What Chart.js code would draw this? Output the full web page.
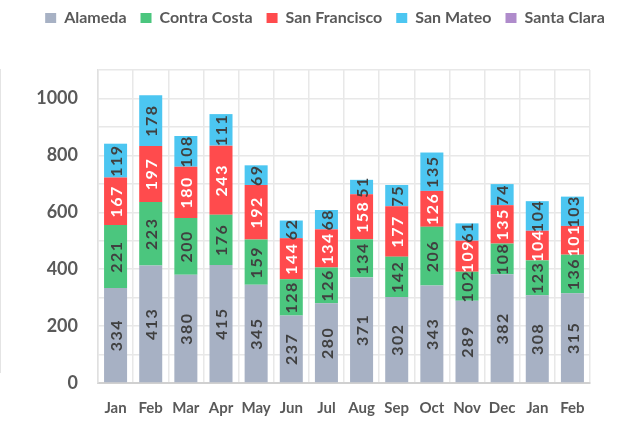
<!DOCTYPE html>
<html>
<head>
<meta charset="utf-8">
<script src="https://cdn.jsdelivr.net/npm/chart.js@4/dist/chart.umd.min.js"></script>
<style>
  html, body { margin: 0; padding: 0; background: #ffffff; }
  #wrap { position: relative; width: 619px; height: 426px; }
  #frame { position: absolute; left: 0; top: 69px; width: 0; height: 304px; border-left: 1.5px solid #e4e4e4; }
</style>
</head>
<body>
<div id="wrap">
  <canvas id="c" width="619" height="426"></canvas>
  <div id="frame"></div>
</div>
<script>
const months = ["Jan","Feb","Mar","Apr","May","Jun","Jul","Aug","Sep","Oct","Nov","Dec","Jan","Feb"];
const alameda      = [334,413,380,415,345,237,280,371,302,343,289,382,308,315];
const contraCosta  = [221,223,200,176,159,128,126,134,142,206,102,108,123,136];
const sanFrancisco = [167,197,180,243,192,144,134,158,177,126,109,135,104,101];
const sanMateo     = [119,178,108,111,69,62,68,51,75,135,61,74,104,103];
const santaClara   = [0,0,0,0,0,0,0,0,0,0,0,0,0,0];
const yTicks = [0,200,400,600,800,1000];

const series = [
  {label: "Alameda", data: alameda, color: "#A7B1C4", text: "#404040"},
  {label: "Contra Costa", data: contraCosta, color: "#4BC67E", text: "#404040"},
  {label: "San Francisco", data: sanFrancisco, color: "#FF4B4D", text: "#ffffff"},
  {label: "San Mateo", data: sanMateo, color: "#4CC6F1", text: "#404040"},
  {label: "Santa Clara", data: santaClara, color: "#AF8BCB", text: "#404040"}
];

const FONT = "Lato";

const labelPlugin = {
  id: "barLabels",
  afterDatasetsDraw(chart) {
    const ctx = chart.ctx;
    chart.data.datasets.forEach((ds, i) => {
      const meta = chart.getDatasetMeta(i);
      if (meta.hidden) return;
      meta.data.forEach((el, j) => {
        const v = ds.data[j];
        if (!v) return;
        const cy = (el.y + el.base) / 2;
        ctx.save();
        ctx.translate(el.x, cy);
        ctx.rotate(-Math.PI / 2);
        ctx.font = "bold 16px " + FONT;
        if ('letterSpacing' in ctx) ctx.letterSpacing = "1.5px";
        ctx.fillStyle = series[i].text;
        ctx.textAlign = "center";
        ctx.textBaseline = "middle";
        ctx.fillText(String(v), 0, 1);
        ctx.restore();
      });
    });
  }
};

const legendSpace = {
  id: "legendSpace",
  beforeInit(chart) {
    const origFit = chart.legend.fit;
    chart.legend.fit = function () {
      origFit.call(this);
      this.height += 34;
    };
  }
};

new Chart(document.getElementById("c"), {
  type: "bar",
  data: {
    labels: months,
    datasets: series.map(s => ({
      label: s.label,
      data: s.data,
      backgroundColor: s.color,
      borderWidth: 0,
      barPercentage: 0.655,
      categoryPercentage: 1.0
    }))
  },
  options: {
    responsive: false,
    animation: false,
    devicePixelRatio: 1,
    layout: { padding: { left: 31, right: 0, top: -4, bottom: -7 } },
    plugins: {
      legend: {
        position: "top",
        align: "center",
        labels: {
          boxWidth: 11,
          boxHeight: 10,
          padding: 14,
          color: "#595959",
          font: { family: FONT, size: 16, weight: "bold" }
        }
      },
      tooltip: { enabled: false }
    },
    scales: {
      x: {
        stacked: true,
        grid: { color: "#e8e8e8", lineWidth: 1.5, drawTicks: false, offset: true },
        border: { color: "#d0d0d0", width: 2 },
        ticks: {
          color: "#595959",
          padding: 16,
          maxRotation: 0,
          autoSkip: false,
          font: { family: FONT, size: 15, weight: "bold" }
        }
      },
      y: {
        stacked: true,
        min: 0,
        max: 1100,
        grid: { color: "#e8e8e8", lineWidth: 1.5, drawTicks: false },
        border: { color: "#e0e0e0", width: 1.5 },
        afterFit(scale) { scale.width = 67; },
        ticks: {
          stepSize: 100,
          padding: 20,
          color: "#595959",
          font: { family: FONT, size: 18, weight: "bold" },
          callback(v) { return yTicks.includes(v) ? String(v) : ""; }
        }
      },
      yRight: {
        position: "right",
        display: true,
        grid: { display: false, drawTicks: false },
        border: { display: false },
        ticks: { display: false },
        afterFit(scale) { scale.width = 29; }
      }
    }
  },
  plugins: [labelPlugin, legendSpace]
});
</script>
</body>
</html>
